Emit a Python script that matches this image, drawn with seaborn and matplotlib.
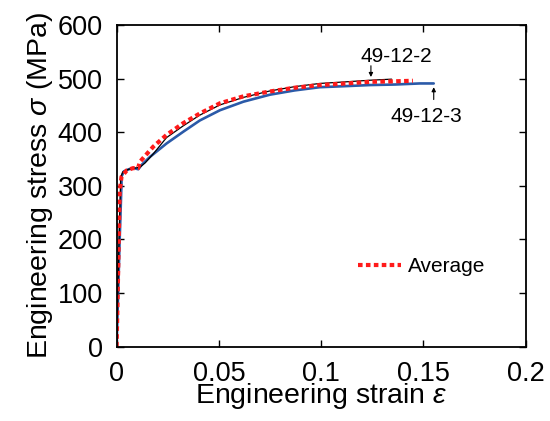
import numpy as np
import pandas as pd
import matplotlib
matplotlib.use('Agg')
import matplotlib.pyplot as plt
import seaborn as sns

# strain-stress data
strain_2 = [0, 0.0012, 0.002, 0.003, 0.006, 0.009, 0.0115, 0.014, 0.018, 0.0244, 0.0326,
            0.0407, 0.0505, 0.062, 0.0749, 0.087, 0.0993, 0.112, 0.1238, 0.1344]
stress_2 = [0, 200, 315, 326, 331, 333, 335, 343, 360, 390, 412,
            432, 451, 465, 477, 485, 491, 494, 497, 499]

strain_3 = [0, 0.0015, 0.0025, 0.0035, 0.006, 0.0085, 0.0106, 0.0122, 0.0163, 0.0244, 0.0326,
            0.0407, 0.0505, 0.062, 0.0749, 0.087, 0.0993, 0.112, 0.1238, 0.136, 0.1482, 0.155]
stress_3 = [0, 200, 318, 327, 331, 333, 331, 339, 354, 379, 401,
            422, 441, 457, 470, 478, 484, 486, 488, 489, 491, 491]

strain_avg = [0, 0.0008, 0.0015, 0.0024, 0.005, 0.008, 0.0105, 0.0114, 0.0179, 0.0244, 0.0326,
              0.0407, 0.0505, 0.062, 0.0749, 0.087, 0.0993, 0.112, 0.1238, 0.136, 0.1448]
stress_avg = [0, 150, 290, 317, 329, 333, 333, 345, 373, 395, 417,
              435, 454, 467, 476, 483, 488, 491, 494, 495, 496]

x_ticks = [0, 0.05, 0.1, 0.15, 0.2]
x_ticklabels = ['0', '0.05', '0.1', '0.15', '0.2']
y_ticks = [0, 100, 200, 300, 400, 500, 600]

sns.set_theme(style='ticks')
plt.rcParams['font.family'] = ['Liberation Sans', 'DejaVu Sans']
plt.rcParams['mathtext.fontset'] = 'custom'
plt.rcParams['mathtext.it'] = 'Liberation Sans:italic'
plt.rcParams['mathtext.rm'] = 'Liberation Sans'
plt.rcParams['text.color'] = 'black'
plt.rcParams['axes.labelcolor'] = 'black'

fig = plt.figure(figsize=(5.5, 4.21), dpi=100)
ax = fig.add_axes([0.212, 0.1765, 0.744, 0.7641])

d3 = pd.DataFrame({'strain': strain_3, 'stress': stress_3})
d2 = pd.DataFrame({'strain': strain_2, 'stress': stress_2})
da = pd.DataFrame({'strain': strain_avg, 'stress': stress_avg})

sns.lineplot(data=d3, x='strain', y='stress', ax=ax, color='#2b5aa8', lw=1.9,
             sort=False, estimator=None)
sns.lineplot(data=d2, x='strain', y='stress', ax=ax, color='black', lw=0.9,
             sort=False, estimator=None)
sns.lineplot(data=da, x='strain', y='stress', ax=ax, color='#ff1a1a', lw=3.0,
             sort=False, estimator=None, label='Average', dashes=False)
ax.lines[-1].set_dashes((1.1, 0.8))
ax.lines[-1].set_dash_capstyle('butt')

ax.set_xlim(0, 0.2)
ax.set_ylim(0, 600)
ax.set_xticks(x_ticks)
ax.set_xticklabels(x_ticklabels)
ax.set_yticks(y_ticks)
ax.tick_params(direction='in', length=5, width=1, labelsize=19.5, top=True, right=True,
               color='black', labelcolor='black')
ax.tick_params(axis='x', pad=10)
ax.tick_params(axis='y', pad=10)
for s in ax.spines.values():
    s.set_linewidth(1.3)
    s.set_color('black')

ax.set_xlabel(r'Engineering strain $\it{\varepsilon}$', fontsize=20.5, labelpad=-4)
ax.set_ylabel(r'Engineering stress $\it{\sigma}$ (MPa)', fontsize=20.5, labelpad=2)

# labels with small arrows
ax.text(0.1365, 542, '49-12-2', fontsize=15, ha='center', va='center')
ax.annotate('', xy=(0.1243, 503), xytext=(0.1243, 524),
            arrowprops=dict(arrowstyle='-|>', lw=0.8, color='black', mutation_scale=6,
                            shrinkA=0, shrinkB=0))
ax.text(0.1514, 430, '49-12-3', fontsize=15, ha='center', va='center')
ax.annotate('', xy=(0.155, 484), xytext=(0.155, 461),
            arrowprops=dict(arrowstyle='-|>', lw=0.8, color='black', mutation_scale=6,
                            shrinkA=0, shrinkB=0))

ax.legend(loc='center left', bbox_to_anchor=(0.59, 0.249), frameon=False, fontsize=15,
          handlelength=2.07, handletextpad=0.31, borderpad=0, borderaxespad=0)

fig.savefig('out.png', dpi=100)
